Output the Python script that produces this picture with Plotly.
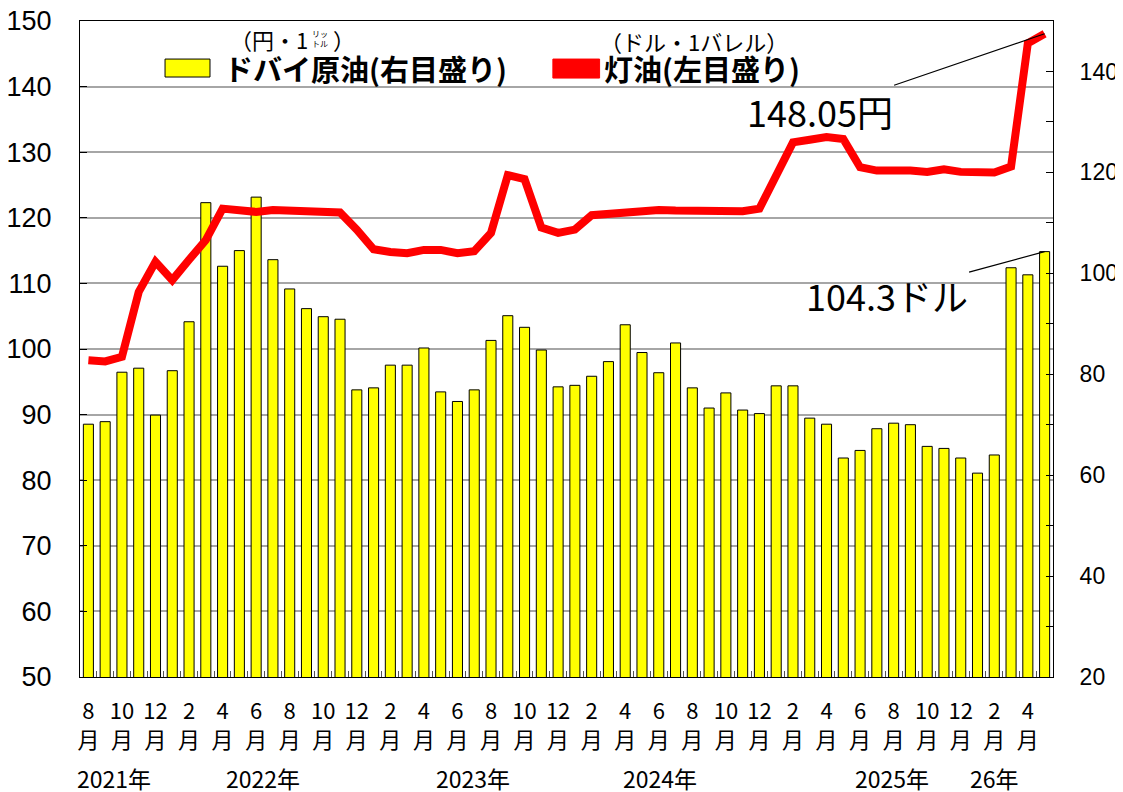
import plotly.graph_objects as go

months = ["2021-08","2021-09","2021-10","2021-11","2021-12",
          "2022-01","2022-02","2022-03","2022-04","2022-05","2022-06","2022-07","2022-08","2022-09","2022-10","2022-11","2022-12",
          "2023-01","2023-02","2023-03","2023-04","2023-05","2023-06","2023-07","2023-08","2023-09","2023-10","2023-11","2023-12",
          "2024-01","2024-02","2024-03","2024-04","2024-05","2024-06","2024-07","2024-08","2024-09","2024-10","2024-11","2024-12",
          "2025-01","2025-02","2025-03","2025-04","2025-05","2025-06","2025-07","2025-08","2025-09","2025-10","2025-11","2025-12",
          "2026-01","2026-02","2026-03","2026-04","2026-05"]

dubai_usd = [70.1, 70.6, 80.4, 81.2, 71.9,
             80.7, 90.4, 114.0, 101.4, 104.5, 115.1, 102.7, 96.9, 93.0, 91.4, 90.9, 76.9,
             77.3, 81.8, 81.8, 85.2, 76.5, 74.6, 76.9, 86.7, 91.6, 89.3, 84.8, 77.5,
             77.8, 79.6, 82.5, 89.8, 84.3, 80.3, 86.2, 77.3, 73.3, 76.3, 72.9, 72.2,
             77.7, 77.7, 71.3, 70.1, 63.4, 64.9, 69.2, 70.3, 70.0, 65.7, 65.3, 63.4,
             60.4, 64.0, 101.1, 99.7, 104.3]

kerosene_yen = [98.3, 98.1, 98.8, 108.7, 113.3,
                110.5, 113.6, 116.6, 121.4, 121.0, 120.9, 121.2, 121.1, 120.7, 120.8, 120.8, 118.2,
                115.2, 114.8, 114.6, 115.1, 115.1, 114.6, 114.9, 117.7, 126.5, 125.9, 118.5, 117.7,
                118.2, 120.4, 120.6, 121.0, 121.2, 121.2, 121.1, 121.1, 120.9, 120.9, 121.0, 121.4,
                126.3, 131.5, 131.9, 132.3, 132.0, 127.7, 127.2, 127.3, 127.2, 127.0, 127.4, 127.0,
                126.9, 126.9, 127.8, 146.6, 148.05]

month_tick_idx = list(range(0, len(months), 2))
month_tick_text = [f"{int(months[i][5:])}<br>月" for i in month_tick_idx]

year_labels = ["2021年", "2022年", "2023年", "2024年", "2025年", "26年"]
year_label_pos = [1.5, 10.4, 22.9, 34.1, 47.9, 54.0]

left_ticks = [50, 60, 70, 80, 90, 100, 110, 120, 130, 140, 150]
right_ticks = [20, 40, 60, 80, 100, 120, 140]
right_minor = [30, 50, 70, 90, 110, 130]

xidx = list(range(len(months)))

JP = "Noto Sans CJK JP"
NUM = "Liberation Sans, Arial"

fig = go.Figure()
fig.add_trace(go.Bar(x=xidx, y=dubai_usd, yaxis="y", width=0.6,
                     marker=dict(color="#ffff00", line=dict(color="#000000", width=1)),
                     showlegend=False, name="ドバイ原油"))
fig.add_trace(go.Scatter(x=xidx, y=kerosene_yen, yaxis="y2", mode="lines",
                         line=dict(color="#ff0000", width=8), showlegend=False, name="灯油"))

fig.update_layout(
    width=1123, height=792,
    margin=dict(l=72, r=78, t=13, b=123),
    paper_bgcolor="white", plot_bgcolor="white",
    xaxis=dict(range=[-0.5, len(months) - 0.5], tickmode="array", tickvals=month_tick_idx,
               ticktext=month_tick_text, ticks="", showgrid=False, automargin=False,
               showline=True, linecolor="black", linewidth=1, mirror=True,
               tickfont=dict(family=JP, size=22, color="black"), ticklabelstandoff=15,
               ticklabeloverflow="allow",
               minor=dict(tickmode="array", tickvals=[i + 0.5 for i in xidx[:-1]],
                          ticks="inside", ticklen=6, tickcolor="#555555", tickwidth=1, showgrid=False),
               zeroline=False),
    yaxis=dict(side="right", range=[20, 150], tickmode="array", tickvals=right_ticks,
               ticks="inside", ticklen=7, tickcolor="black", showgrid=False, zeroline=False,
               showline=True, linecolor="black", linewidth=1, automargin=False,
               ticklabeloverflow="allow",
               minor=dict(tickmode="array", tickvals=right_minor,
                          ticks="inside", ticklen=7, tickcolor="black"),
               tickfont=dict(family=NUM, size=23, color="black"), ticklabelstandoff=21),
    yaxis2=dict(side="left", overlaying="y", range=[50, 150], tickmode="array", tickvals=left_ticks,
                ticks="inside", ticklen=7, tickcolor="black", automargin=False,
                ticklabeloverflow="allow",
                showgrid=True, gridcolor="#a6a6a6", gridwidth=1.5, zeroline=False,
                showline=True, linecolor="black", linewidth=1,
                tickfont=dict(family=NUM, size=27, color="black"), ticklabelstandoff=22),
)

annotations = []
for lab, pos in zip(year_labels, year_label_pos):
    annotations.append(dict(x=pos, y=-0.154, xref="x", yref="paper", text=lab, showarrow=False,
                            font=dict(family=JP, size=23, color="black"), xanchor="center", yanchor="middle"))

# legend texts
annotations += [
    dict(x=0.1459, y=0.928, xref="paper", yref="paper", text="<b>ドバイ原油(右目盛り)</b>", showarrow=False,
         xanchor="left", yanchor="middle", font=dict(family=JP, size=29, color="black")),
    dict(x=0.1521, y=0.972, xref="paper", yref="paper", text="（円・1", showarrow=False,
         xanchor="left", yanchor="middle", font=dict(family=JP, size=22, color="black")),
    dict(x=0.2467, y=0.974, xref="paper", yref="paper", text="リッ<br>トル", showarrow=False,
         xanchor="center", yanchor="middle", font=dict(family=JP, size=8, color="black")),
    dict(x=0.2580, y=0.972, xref="paper", yref="paper", text="）", showarrow=False,
         xanchor="left", yanchor="middle", font=dict(family=JP, size=22, color="black")),
    dict(x=0.5365, y=0.928, xref="paper", yref="paper", text="<b>灯油(左目盛り)</b>", showarrow=False,
         xanchor="left", yanchor="middle", font=dict(family=JP, size=29, color="black")),
    dict(x=0.5324, y=0.969, xref="paper", yref="paper", text="（ドル・1バレル）", showarrow=False,
         xanchor="left", yanchor="middle", font=dict(family=JP, size=22, color="black")),
    dict(x=xidx[-1], y=kerosene_yen[-1], xref="x", yref="y2", text="148.05円", showarrow=True,
         arrowhead=0, arrowwidth=1.2, arrowcolor="black", ax=-225, ay=77,
         font=dict(family=JP, size=36, color="black")),
    dict(x=xidx[-1], y=dubai_usd[-1], xref="x", yref="y", text="104.3ドル", showarrow=True,
         arrowhead=0, arrowwidth=1.2, arrowcolor="black", ax=-158, ay=43,
         font=dict(family=JP, size=36, color="black")),
]
fig.update_layout(annotations=annotations)

fig.add_shape(type="rect", xref="paper", yref="paper", x0=0.0874, x1=0.1336, y0=0.9146, y1=0.942,
              fillcolor="#ffff00", line=dict(color="black", width=1))
fig.add_shape(type="rect", xref="paper", yref="paper", x0=0.486, x1=0.534, y0=0.913, y1=0.942,
              fillcolor="#ff0000", line=dict(color="#ff0000", width=1))

fig.write_html("out.html")
